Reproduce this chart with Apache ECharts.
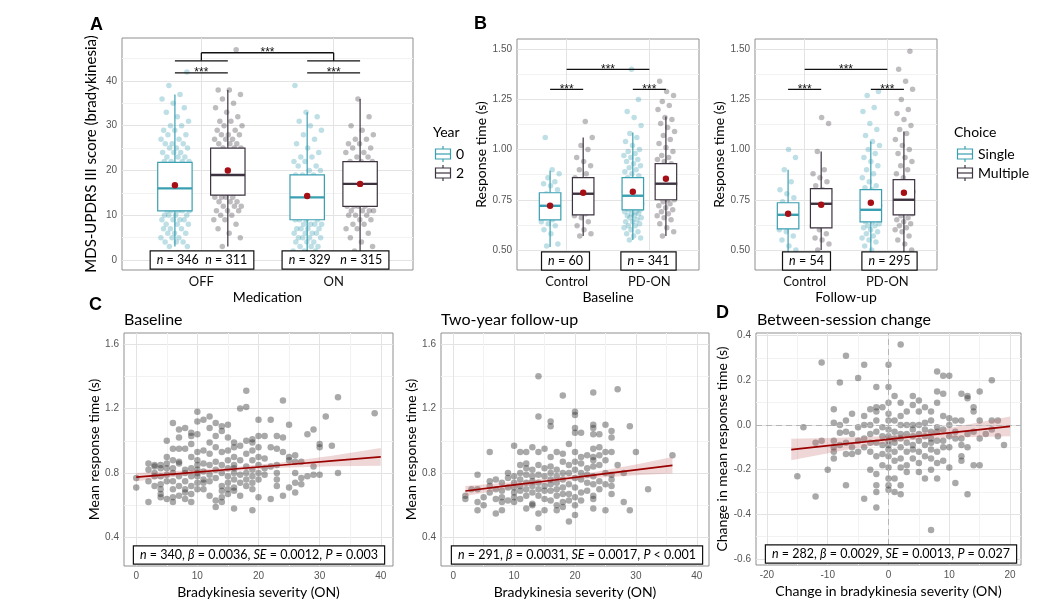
<!DOCTYPE html>
<html>
<head>
<meta charset="utf-8">
<script src="https://cdn.jsdelivr.net/npm/echarts@6/dist/echarts.min.js"></script>
<style>
  html, body { margin: 0; padding: 0; background: #fff; }
  #main { width: 1056px; height: 614px; }
</style>
</head>
<body>
<div id="main"></div>
<script>
// ---------- data ----------
// box stats: [low whisker, q1, median, q3, high whisker, mean]
var aGroups = ['OFF', 'ON'];
var aYear0Stats = [[3, 11, 16, 21.8, 37, 16.7], [0.5, 9, 14, 19, 33, 14.3]];
var aYear2Stats = [[3, 14.5, 19, 25, 38, 20], [2, 12, 17, 22, 36, 17]];
var aOffYear0 = [3,3,4,4,4,5,5,5,6,6,6,7,7,7,8,8,8,9,9,9,9,10,10,10,10,11,11,11,11,11,12,12,12,12,12,13,13,13,13,13,14,14,14,14,14,15,15,15,15,15,16,16,16,16,16,16,17,17,17,17,17,18,18,18,18,18,19,19,19,19,19,20,20,20,20,21,21,21,21,22,22,22,22,23,23,23,24,24,24,25,25,25,26,26,26,27,27,28,28,29,29,30,30,31,32,33,34,35,36,37,39,42];
var aOffYear2 = [3,5,6,7,8,9,9,10,10,11,11,11,12,12,12,13,13,13,14,14,14,14,15,15,15,15,16,16,16,16,16,17,17,17,17,17,18,18,18,18,18,19,19,19,19,19,20,20,20,20,20,21,21,21,21,22,22,22,22,23,23,23,23,24,24,24,24,25,25,25,26,26,26,27,27,27,28,28,28,29,29,30,30,31,31,32,33,34,35,36,37,38,38,47];
var aOnYear0 = [0,1,1,1,2,2,2,3,3,3,4,4,4,5,5,5,5,6,6,6,6,7,7,7,7,8,8,8,8,9,9,9,9,10,10,10,10,11,11,11,11,12,12,12,12,13,13,13,13,14,14,14,14,15,15,15,15,16,16,16,17,17,17,18,18,18,19,19,19,20,20,21,21,22,22,23,23,24,25,26,27,28,29,30,31,32,33,39];
var aOnYear2 = [2,3,4,5,6,7,7,8,8,9,9,10,10,10,11,11,11,11,12,12,12,12,13,13,13,13,14,14,14,14,15,15,15,15,16,16,16,16,17,17,17,17,18,18,18,18,19,19,19,19,20,20,20,21,21,21,22,22,22,23,23,24,24,25,25,26,26,27,27,28,29,30,32,36];

var bGroups = ['Control', 'PD-ON'];
var bBaseSingleStats = [[0.515, 0.65, 0.72, 0.785, 0.895, 0.72], [0.55, 0.70, 0.77, 0.86, 1.085, 0.79]];
var bBaseMultiStats = [[0.57, 0.675, 0.78, 0.86, 1.06, 0.785], [0.57, 0.75, 0.83, 0.93, 1.165, 0.855]];
var bFollowSingleStats = [[0.49, 0.605, 0.675, 0.735, 0.90, 0.68], [0.45, 0.64, 0.70, 0.80, 1.04, 0.735]];
var bFollowMultiStats = [[0.50, 0.61, 0.73, 0.805, 0.99, 0.725], [0.45, 0.675, 0.75, 0.85, 1.09, 0.785]];

var bBaseCtlSingle = [0.52,0.53,0.58,0.6,0.62,0.63,0.64,0.65,0.66,0.67,0.68,0.69,0.7,0.7,0.71,0.72,0.73,0.74,0.75,0.76,0.77,0.78,0.8,0.82,0.83,0.84,0.86,0.88,0.9,1.06];
var bBaseCtlMulti = [0.57,0.58,0.6,0.62,0.64,0.66,0.67,0.68,0.7,0.72,0.74,0.76,0.77,0.78,0.79,0.8,0.82,0.84,0.85,0.86,0.88,0.9,0.92,0.94,0.96,1.0,1.02,1.06,1.14];
var bBasePdSingle = [0.55,0.56,0.57,0.58,0.59,0.6,0.61,0.62,0.62,0.63,0.64,0.64,0.65,0.66,0.66,0.67,0.67,0.68,0.68,0.69,0.69,0.7,0.7,0.71,0.71,0.72,0.72,0.73,0.73,0.74,0.74,0.75,0.75,0.76,0.76,0.77,0.77,0.78,0.78,0.79,0.79,0.8,0.8,0.81,0.82,0.82,0.83,0.84,0.85,0.85,0.86,0.87,0.88,0.89,0.9,0.91,0.92,0.93,0.94,0.95,0.96,0.97,0.98,0.99,1.0,1.02,1.04,1.06,1.08,1.12,1.16,1.19,1.25,1.4];
var bBasePdMulti = [0.57,0.59,0.61,0.63,0.65,0.66,0.67,0.68,0.69,0.7,0.71,0.72,0.73,0.74,0.75,0.75,0.76,0.77,0.77,0.78,0.79,0.8,0.8,0.81,0.82,0.82,0.83,0.83,0.84,0.85,0.85,0.86,0.87,0.88,0.89,0.9,0.91,0.92,0.93,0.94,0.95,0.96,0.97,0.99,1.01,1.03,1.05,1.07,1.09,1.11,1.13,1.15,1.16,1.2,1.22,1.24,1.27,1.29,1.34];
var bFollowCtlSingle = [0.48,0.5,0.52,0.55,0.57,0.59,0.6,0.62,0.63,0.65,0.66,0.67,0.68,0.7,0.71,0.72,0.74,0.76,0.78,0.8,0.84,0.9,0.96,1.0];
var bFollowCtlMulti = [0.5,0.53,0.55,0.56,0.58,0.6,0.62,0.65,0.68,0.7,0.72,0.73,0.75,0.77,0.79,0.8,0.82,0.84,0.86,0.88,0.9,0.99,1.13,1.16];
var bFollowPdSingle = [0.46,0.48,0.5,0.52,0.54,0.55,0.56,0.57,0.58,0.59,0.6,0.61,0.62,0.62,0.63,0.64,0.64,0.65,0.66,0.66,0.67,0.68,0.68,0.69,0.7,0.7,0.71,0.72,0.72,0.73,0.74,0.75,0.76,0.77,0.78,0.79,0.8,0.81,0.82,0.84,0.86,0.88,0.9,0.92,0.94,0.96,0.98,1.0,1.02,1.04,1.07,1.1,1.13,1.19,1.21,1.27,1.29];
var bFollowPdMulti = [0.46,0.5,0.53,0.55,0.57,0.59,0.6,0.61,0.62,0.63,0.64,0.65,0.66,0.67,0.68,0.69,0.7,0.71,0.72,0.72,0.73,0.74,0.75,0.75,0.76,0.77,0.78,0.79,0.8,0.82,0.84,0.86,0.88,0.9,0.92,0.94,0.96,0.98,1.0,1.02,1.05,1.08,1.1,1.12,1.15,1.18,1.2,1.25,1.3,1.34,1.4,1.49];

// scatter panels: [bradykinesia score, [mean response times]]
var cBaseline = [
  [0,[0.77,0.71]], [2,[0.62,0.75,0.82,0.86]], [3,[0.72,0.78,0.80,0.84,0.85]],
  [4,[0.65,0.67,0.70,0.73,0.78,0.83,0.85]], [5,[0.64,0.75,0.79,0.83,0.86,0.90,1.00]],
  [6,[0.62,0.65,0.70,0.75,0.80,0.83,0.88,0.95,1.11]], [7,[0.66,0.72,0.78,0.86,0.87,0.95,1.02,1.07]],
  [8,[0.64,0.68,0.70,0.75,0.80,0.82,0.95,1.08]], [9,[0.62,0.67,0.72,0.78,0.83,0.90,0.98,1.03,1.05]],
  [10,[0.70,0.74,0.78,0.80,0.82,0.85,0.88,0.93,1.04,1.12,1.18]], [11,[0.70,0.74,0.76,0.81,0.86,0.94,1.13]],
  [12,[0.66,0.75,0.79,0.85,0.92,0.99,1.08,1.15]], [13,[0.59,0.63,0.77,0.82,0.87,0.96,1.03,1.11]],
  [14,[0.62,0.65,0.69,0.72,0.80,0.85,0.93,1.06,1.09]], [15,[0.67,0.70,0.74,0.78,0.83,0.88,0.94,1.02,1.10]],
  [16,[0.58,0.69,0.71,0.76,0.80,0.83,0.85,0.90,0.96,0.99]], [17,[0.66,0.74,0.79,0.88,0.97,1.20]],
  [18,[0.72,0.76,0.80,0.84,0.92,1.00,1.21,1.31]], [19,[0.57,0.70,0.74,0.78,0.82,0.88,0.94,0.99,1.01]],
  [20,[0.65,0.76,0.80,0.85,0.90,0.96,1.03,1.13]], [21,[0.79,0.83,0.89,1.03]], [22,[0.64,0.84,0.96,1.13]],
  [23,[0.72,0.76,0.80,0.85,0.95,1.03]], [24,[0.66,0.93,1.02,1.25]], [25,[0.71,0.88,0.90,1.10]],
  [26,[0.68,0.74,0.80,0.87,0.91]], [27,[0.73,0.77,0.87]], [28,[0.78,1.04]], [29,[0.79,0.84,1.07]],
  [30,[0.79,0.96,0.98]], [31,[1.15]], [32,[0.97]], [33,[0.80,1.27]], [39,[1.17]]
];
var cFollowUp = [
  [2,[0.66,0.64]], [3,[0.70]], [4,[0.79,0.70,0.62,0.57]], [5,[0.65,0.60]], [6,[0.93,0.75,0.72,0.68]],
  [7,[0.76,0.70,0.64,0.55]], [8,[0.74,0.69,0.65,0.62,0.57]], [9,[0.80,0.77,0.71,0.63]],
  [10,[0.97,0.78,0.74,0.71,0.68,0.65,0.62]], [11,[0.93,0.85,0.80,0.76,0.72,0.69,0.64]],
  [12,[0.93,0.86,0.83,0.79,0.74,0.70,0.66,0.58]], [13,[0.96,0.82,0.78,0.75,0.72,0.68,0.61,0.60]],
  [14,[1.40,1.15,0.93,0.85,0.79,0.74,0.70,0.66,0.55,0.46]], [15,[0.95,0.83,0.78,0.72,0.69,0.64,0.57]],
  [16,[1.12,1.09,0.90,0.84,0.80,0.76,0.73,0.69,0.63]], [17,[0.93,0.82,0.78,0.74,0.70,0.66,0.60,0.57]],
  [18,[1.28,0.92,0.87,0.80,0.76,0.71,0.67,0.62,0.59]], [19,[0.98,0.85,0.80,0.73,0.67,0.63,0.50]],
  [20,[1.18,1.16,1.08,1.05,0.93,0.87,0.82,0.77,0.71,0.65,0.60,0.54]], [21,[1.05,0.90,0.86,0.80,0.76,0.68,0.63]],
  [22,[0.91,0.83,0.79,0.74,0.69]], [23,[1.30,1.10,1.08,1.04,0.95,0.90,0.88,0.84,0.78,0.73,0.66,0.64,0.58]],
  [24,[1.04,0.96,0.91,0.85,0.75,0.70]], [25,[1.10,0.93,0.88,0.80,0.73,0.57]],
  [26,[1.06,1.02,0.93,0.79,0.76,0.72,0.67]], [27,[1.32,0.85]], [28,[0.80,0.62]], [29,[1.09,0.57]],
  [30,[0.93]], [32,[0.70]], [36,[0.91]]
];
var dChange = [
  [-15,[-0.23]], [-14,[-0.01]], [-12,[-0.32,-0.08]], [-11,[0.28,-0.07]], [-10,[-0.20]],
  [-9,[0.07,0.01,-0.07,-0.12,-0.15,-0.10]], [-8,[0.19,0.00,-0.035,-0.09]],
  [-7,[0.31,0.02,-0.03,-0.08,-0.13,-0.27]], [-6,[0.05,-0.04,-0.10,-0.13]], [-5,[0.21,-0.01,-0.07,-0.12]],
  [-4,[0.27,0.04,0.00,-0.06,-0.10,-0.33]], [-3,[0.07,0.00,-0.04,-0.08,-0.12,-0.20]],
  [-2,[0.17,0.08,0.06,0.02,-0.03,-0.08,-0.14,-0.22,-0.27,-0.30,-0.37]], [-1,[0.08,-0.01,-0.05,-0.09,-0.13,-0.18]],
  [0,[0.27,0.17,0.10,0.05,0.02,-0.02,-0.05,-0.07,-0.09,-0.11,-0.14,-0.19,-0.24,-0.27,-0.29]],
  [1,[0.13,0.02,-0.03,-0.06,-0.08,-0.12,-0.16,-0.24,-0.30]],
  [2,[0.36,0.10,0.04,0.00,-0.04,-0.06,-0.10,-0.15,-0.19,-0.27,-0.31]],
  [3,[0.06,0.00,-0.04,-0.08,-0.12,-0.18,-0.21]], [4,[0.13,0.09,0.00,-0.02,-0.05,-0.09,-0.11,-0.15]],
  [5,[0.11,0.06,0.00,-0.04,-0.07,-0.12,-0.17,-0.21]], [6,[0.08,0.01,-0.02,-0.05,-0.09,-0.14,-0.24]],
  [7,[0.06,0.02,-0.03,-0.06,-0.08,-0.11,-0.15,-0.20,-0.47]], [8,[0.24,0.15,0.10,-0.01,-0.03,-0.07,-0.12,-0.17,-0.24]],
  [9,[0.22,0.14,0.04,-0.02,-0.07,-0.10,-0.16]], [10,[0.22,0.03,0.00,-0.05,-0.10,-0.19]],
  [11,[0.02,-0.03,-0.06,-0.26]], [12,[0.14,0.02,-0.06,-0.09,-0.14,-0.16]], [13,[0.13,0.12,-0.04,-0.10,-0.31]],
  [14,[0.08,0.06,-0.03,-0.18]], [15,[0.15,0.02,-0.06,-0.18]], [16,[-0.04]], [17,[0.20,0.02,-0.02]],
  [18,[0.02,-0.05]], [19,[-0.09]]
];

// linear fits with confidence band
var cBaseFitX = [0, 8, 16, 24, 32, 40];
var cBaseFitY = [0.775, 0.800, 0.825, 0.850, 0.875, 0.900];
var cBaseFitLo = [0.749, 0.784, 0.813, 0.833, 0.842, 0.845];
var cBaseFitHi = [0.801, 0.816, 0.837, 0.867, 0.908, 0.955];
var cFollowFitX = [2, 9, 16, 23, 30, 36];
var cFollowFitY = [0.689, 0.722, 0.754, 0.787, 0.820, 0.848];
var cFollowFitLo = [0.658, 0.702, 0.740, 0.769, 0.787, 0.797];
var cFollowFitHi = [0.720, 0.742, 0.768, 0.805, 0.853, 0.899];
var dFitX = [-16, -8, 0, 2, 10, 20];
var dFitY = [-0.110, -0.087, -0.064, -0.058, -0.035, -0.006];
var dFitLo = [-0.158, -0.117, -0.079, -0.072, -0.056, -0.050];
var dFitHi = [-0.062, -0.057, -0.049, -0.044, -0.014, 0.038];

// ---------- helpers ----------
var TEAL = '#3a9fb1', DARK = '#3d3340', MEAN = '#a50f15';
var tickFont = { color: '#555', fontSize: 10, fontFamily: 'Liberation Sans' };
var catFont = { color: '#111', fontSize: 13, fontFamily: 'Lato' };
var titleFont = { color: '#000', fontSize: 14, fontFamily: 'Lato' };

function axis(gi, min, max, lines, labels, fmt, name, gap, font, colors) {
  return {
    type: 'value', gridIndex: gi, min: min, max: max,
    name: name, nameLocation: 'middle', nameGap: gap, nameTextStyle: titleFont,
    axisLine: { show: false },
    axisTick: { show: false, customValues: lines },
    axisLabel: Object.assign({ customValues: labels, formatter: fmt, margin: 5 }, font || tickFont),
    splitLine: { show: true, lineStyle: { color: colors || ['#e3e3e3', '#f2f2f2'], width: 1 } }
  };
}

function flatten(rows) {
  var out = [];
  rows.forEach(function (r) { r[1].forEach(function (y) { out.push([r[0], y]); }); });
  return out;
}

function jitter(values, center, width) {
  return values.map(function (v, i) {
    var f = (i * 0.6180339887 + 0.31) % 1;
    return [center + (f - 0.5) * 2 * width, v];
  });
}

function jitterSeries(gi, values, center, color) {
  return {
    type: 'scatter', xAxisIndex: gi, yAxisIndex: gi, symbolSize: 5.5, clip: true, z: 2,
    data: jitter(values, center, 0.11),
    itemStyle: { color: color, opacity: 0.33 }
  };
}

function boxSeries(gi, stats, offset, color) {
  return {
    type: 'custom', xAxisIndex: gi, yAxisIndex: gi, clip: true, z: 3,
    data: stats.map(function (s, i) { return [i + 1 + offset].concat(s); }),
    renderItem: function (params, api) {
      var x = api.value(0);
      var lo = api.coord([x, api.value(1)]), q1 = api.coord([x, api.value(2)]);
      var md = api.coord([x, api.value(3)]), q3 = api.coord([x, api.value(4)]);
      var hi = api.coord([x, api.value(5)]), mn = api.coord([x, api.value(6)]);
      var half = api.size([0.26, 0])[0] / 2;
      return { type: 'group', children: [
        { type: 'line', shape: { x1: lo[0], y1: lo[1], x2: q1[0], y2: q1[1] }, style: { stroke: color, lineWidth: 1.2 } },
        { type: 'line', shape: { x1: q3[0], y1: q3[1], x2: hi[0], y2: hi[1] }, style: { stroke: color, lineWidth: 1.2 } },
        { type: 'rect', shape: { x: lo[0] - half, y: q3[1], width: half * 2, height: q1[1] - q3[1] }, style: { fill: '#fff', stroke: color, lineWidth: 1.2 } },
        { type: 'line', shape: { x1: md[0] - half, y1: md[1], x2: md[0] + half, y2: md[1] }, style: { stroke: color, lineWidth: 2.4 } },
        { type: 'circle', shape: { cx: mn[0], cy: mn[1], r: 3.2 }, style: { fill: MEAN } }
      ] };
    }
  };
}

// [x1, x2, y, drop, withStars]
function bracketSeries(gi, list) {
  return {
    type: 'custom', xAxisIndex: gi, yAxisIndex: gi, clip: false, z: 5, data: list,
    renderItem: function (params, api) {
      var y = api.value(2), drop = api.value(3);
      var a = api.coord([api.value(0), y]), b = api.coord([api.value(1), y]);
      var kids = [{ type: 'line', shape: { x1: a[0], y1: a[1], x2: b[0], y2: b[1] }, style: { stroke: '#111', lineWidth: 1.3 } }];
      if (drop) {
        var a2 = api.coord([api.value(0), y - drop]), b2 = api.coord([api.value(1), y - drop]);
        kids.push({ type: 'line', shape: { x1: a[0], y1: a[1], x2: a2[0], y2: a2[1] }, style: { stroke: '#111', lineWidth: 1.3 } });
        kids.push({ type: 'line', shape: { x1: b[0], y1: b[1], x2: b2[0], y2: b2[1] }, style: { stroke: '#111', lineWidth: 1.3 } });
      }
      if (api.value(4)) {
        kids.push({ type: 'text', style: { text: '***', x: (a[0] + b[0]) / 2, y: a[1], textAlign: 'center', textVerticalAlign: 'middle', fill: '#111', font: '12px Liberation Sans' } });
      }
      return { type: 'group', children: kids };
    }
  };
}

function ribbonSeries(gi, xs, lo, hi) {
  return {
    type: 'custom', xAxisIndex: gi, yAxisIndex: gi, clip: true, z: 4, data: [[xs[0], lo[0]]],
    renderItem: function (params, api) {
      var pts = [], i;
      for (i = 0; i < xs.length; i++) pts.push(api.coord([xs[i], hi[i]]));
      for (i = xs.length - 1; i >= 0; i--) pts.push(api.coord([xs[i], lo[i]]));
      return { type: 'polygon', shape: { points: pts }, style: { fill: 'rgba(200,110,110,0.28)' } };
    }
  };
}

function fitLine(gi, xs, ys) {
  return {
    type: 'line', xAxisIndex: gi, yAxisIndex: gi, z: 5, symbol: 'none',
    data: xs.map(function (x, i) { return [x, ys[i]]; }),
    lineStyle: { color: '#9b0000', width: 1.7 }
  };
}

function pointSeries(gi, rows, extra) {
  return Object.assign({
    type: 'scatter', xAxisIndex: gi, yAxisIndex: gi, symbolSize: 6.5, clip: true, z: 2,
    data: flatten(rows), itemStyle: { color: '#333', opacity: 0.42 }
  }, extra || {});
}

function textBox(x, y, rich) {
  return {
    type: 'text', x: x, y: y, z: 100,
    style: {
      text: rich, textAlign: 'center', textVerticalAlign: 'middle',
      font: '12.5px Lato', fill: '#000', backgroundColor: '#fff',
      borderColor: '#111', borderWidth: 1.2, padding: [2, 6, 2, 6],
      rich: { i: { fontStyle: 'italic', fontSize: 12.5, fontFamily: 'Lato' } }
    }
  };
}

function keyGlyph(x, y, color) {
  return [
    { type: 'line', shape: { x1: x, y1: y - 8, x2: x, y2: y + 8 }, style: { stroke: color, lineWidth: 1.2 } },
    { type: 'rect', shape: { x: x - 7.5, y: y - 5, width: 15, height: 10 }, style: { fill: '#fff', stroke: color, lineWidth: 1.2 } },
    { type: 'line', shape: { x1: x - 7.5, y1: y, x2: x + 7.5, y2: y }, style: { stroke: color, lineWidth: 1.2 } }
  ];
}

function plain(x, y, s, font, align) {
  return { type: 'text', x: x, y: y, style: { text: s, font: font, fill: '#000', textAlign: align || 'left', textVerticalAlign: 'middle' } };
}

// ---------- chart ----------
var chart = echarts.init(document.getElementById('main'), null, { renderer: 'canvas' });

var gridBase = { show: true, borderColor: '#8f8f8f', borderWidth: 1, backgroundColor: 'transparent', containLabel: false };
var grids = [
  Object.assign({ left: 122, top: 38, width: 291, height: 232 }, gridBase),
  Object.assign({ left: 517, top: 39, width: 182, height: 231 }, gridBase),
  Object.assign({ left: 755, top: 39, width: 182, height: 231 }, gridBase),
  Object.assign({ left: 124, top: 333, width: 269, height: 233 }, gridBase),
  Object.assign({ left: 441, top: 333, width: 268, height: 233 }, gridBase),
  Object.assign({ left: 756, top: 333, width: 265, height: 232 }, gridBase)
];

var catFmtA = function (v) { return aGroups[Math.round(v) - 1]; };
var catFmtB = function (v) { return bGroups[Math.round(v) - 1]; };
var f2 = function (v) { return v.toFixed(2); };
var f1 = function (v) { return v.toFixed(1); };
var f0 = function (v) { return String(Math.round(v)); };

var bLines = [0.5, 0.625, 0.75, 0.875, 1.0, 1.125, 1.25, 1.375, 1.5];
var bLabels = [0.5, 0.75, 1.0, 1.25, 1.5];
var cLinesY = [0.4, 0.6, 0.8, 1.0, 1.2, 1.4, 1.6];
var cLabelsY = [0.4, 0.8, 1.2, 1.6];
var cLinesX = [0, 5, 10, 15, 20, 25, 30, 35, 40];
var cLabelsX = [0, 10, 20, 30, 40];

var xAxes = [
  axis(0, 0.4, 2.6, [1, 2], [1, 2], catFmtA, 'Medication', 20, catFont, ['#e3e3e3']),
  axis(1, 0.4, 2.6, [1, 2], [1, 2], catFmtB, 'Baseline', 20, catFont, ['#e3e3e3']),
  axis(2, 0.4, 2.6, [1, 2], [1, 2], catFmtB, 'Follow-up', 20, catFont, ['#e3e3e3']),
  axis(3, -2, 42, cLinesX, cLabelsX, f0, 'Bradykinesia severity (ON)', 19),
  axis(4, -2, 42, cLinesX, cLabelsX, f0, 'Bradykinesia severity (ON)', 19),
  axis(5, -21.8, 21.8, [-20, -15, -10, -5, 0, 5, 10, 15, 20], [-20, -10, 0, 10, 20], f0, 'Change in bradykinesia severity (ON)', 19)
];
var yAxes = [
  axis(0, -2.23, 49.6, [0, 5, 10, 15, 20, 25, 30, 35, 40, 45], [0, 10, 20, 30, 40], f0, 'MDS-UPDRS III score (bradykinesia)', 23),
  axis(1, 0.40, 1.551, bLines, bLabels, f2, 'Response time (s)', 27),
  axis(2, 0.40, 1.551, bLines, bLabels, f2, 'Response time (s)', 27),
  axis(3, 0.224, 1.668, cLinesY, cLabelsY, f1, 'Mean response time (s)', 19),
  axis(4, 0.224, 1.668, cLinesY, cLabelsY, f1, 'Mean response time (s)', 22),
  axis(5, -0.627, 0.412, [-0.6, -0.5, -0.4, -0.3, -0.2, -0.1, 0, 0.1, 0.2, 0.3, 0.4], [-0.6, -0.4, -0.2, 0, 0.2, 0.4], f1, 'Change in mean response time (s)', 22)
];
yAxes[0].nameTextStyle = Object.assign({}, titleFont, { fontSize: 15 });

var series = [
  // A
  jitterSeries(0, aOffYear0, 0.8, TEAL), jitterSeries(0, aOffYear2, 1.2, DARK),
  jitterSeries(0, aOnYear0, 1.8, TEAL), jitterSeries(0, aOnYear2, 2.2, DARK),
  boxSeries(0, aYear0Stats, -0.2, TEAL), boxSeries(0, aYear2Stats, 0.2, DARK),
  bracketSeries(0, [[0.8, 1.2, 41.8, 0, 1], [1.8, 2.2, 41.8, 0, 1], [0.8, 1.2, 44.5, 0, 0], [1.8, 2.2, 44.5, 0, 0], [1, 2, 46.3, 1.8, 1]]),
  // B baseline
  jitterSeries(1, bBaseCtlSingle, 0.8, TEAL), jitterSeries(1, bBaseCtlMulti, 1.2, DARK),
  jitterSeries(1, bBasePdSingle, 1.8, TEAL), jitterSeries(1, bBasePdMulti, 2.2, DARK),
  boxSeries(1, bBaseSingleStats, -0.2, TEAL), boxSeries(1, bBaseMultiStats, 0.2, DARK),
  bracketSeries(1, [[0.8, 1.2, 1.30, 0, 1], [1.8, 2.2, 1.30, 0, 1], [1, 2, 1.40, 0, 1]]),
  // B follow-up
  jitterSeries(2, bFollowCtlSingle, 0.8, TEAL), jitterSeries(2, bFollowCtlMulti, 1.2, DARK),
  jitterSeries(2, bFollowPdSingle, 1.8, TEAL), jitterSeries(2, bFollowPdMulti, 2.2, DARK),
  boxSeries(2, bFollowSingleStats, -0.2, TEAL), boxSeries(2, bFollowMultiStats, 0.2, DARK),
  bracketSeries(2, [[0.8, 1.2, 1.30, 0, 1], [1.8, 2.2, 1.30, 0, 1], [1, 2, 1.40, 0, 1]]),
  // C
  pointSeries(3, cBaseline), ribbonSeries(3, cBaseFitX, cBaseFitLo, cBaseFitHi), fitLine(3, cBaseFitX, cBaseFitY),
  pointSeries(4, cFollowUp), ribbonSeries(4, cFollowFitX, cFollowFitLo, cFollowFitHi), fitLine(4, cFollowFitX, cFollowFitY),
  // D
  pointSeries(5, dChange, {
    markLine: {
      silent: true, symbol: 'none', label: { show: false },
      lineStyle: { type: [6, 4], color: '#b5b5b5', width: 1 },
      data: [{ xAxis: 0 }, { yAxis: 0 }]
    }
  }),
  ribbonSeries(5, dFitX, dFitLo, dFitHi), fitLine(5, dFitX, dFitY)
];

var graphics = [
  plain(90, 25, 'A', 'bold 18px Liberation Sans'),
  plain(474, 24, 'B', 'bold 18px Liberation Sans'),
  plain(89, 305, 'C', 'bold 18px Liberation Sans'),
  plain(716, 313, 'D', 'bold 18px Liberation Sans'),
  plain(124, 320, 'Baseline', '16px Lato'),
  plain(441, 320, 'Two-year follow-up', '16px Lato'),
  plain(757, 320, 'Between-session change', '16px Lato'),
  textBox(202, 260, '{i|n} = 346  {i|n} = 311'),
  textBox(335.5, 260, '{i|n} = 329   {i|n} = 315'),
  textBox(565.5, 261, '{i|n} = 60'),
  textBox(648.5, 261, '{i|n} = 341'),
  textBox(806.5, 261, '{i|n} = 54'),
  textBox(889.5, 261, '{i|n} = 295'),
  textBox(259, 555, '{i|n} = 340, {i|β} = 0.0036, {i|SE} = 0.0012, {i|P} = 0.003'),
  textBox(577, 555, '{i|n} = 291, {i|β} = 0.0031, {i|SE} = 0.0017, {i|P} < 0.001'),
  textBox(891, 554, '{i|n} = 282, {i|β} = 0.0029, {i|SE} = 0.0013, {i|P} = 0.027'),
  // legends
  plain(433, 132, 'Year', '14px Lato'),
  { type: 'group', children: keyGlyph(443, 154, TEAL).concat(keyGlyph(443, 173, DARK)) },
  plain(456, 154, '0', '14px Lato'),
  plain(456, 173, '2', '14px Lato'),
  plain(954, 132, 'Choice', '14px Lato'),
  { type: 'group', children: keyGlyph(965, 154, TEAL).concat(keyGlyph(965, 173, DARK)) },
  plain(978, 154, 'Single', '14px Lato'),
  plain(978, 173, 'Multiple', '14px Lato')
];

chart.setOption({
  animation: false,
  backgroundColor: '#fff',
  grid: grids,
  xAxis: xAxes,
  yAxis: yAxes,
  series: series,
  graphic: { elements: graphics }
});
</script>
</body>
</html>
